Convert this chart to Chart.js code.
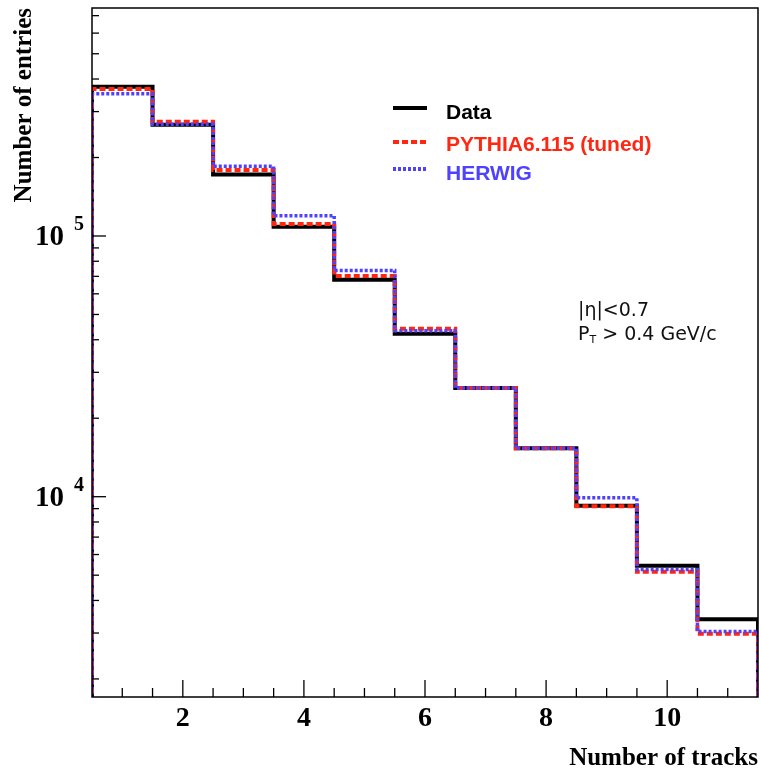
<!DOCTYPE html>
<html>
<head>
<meta charset="utf-8">
<script src="https://cdn.jsdelivr.net/npm/chart.js@4/dist/chart.umd.min.js"></script>
<style>
  html, body { margin: 0; padding: 0; background: #fff; }
  #wrap { width: 761px; height: 771px; }
</style>
</head>
<body>
<div id="wrap"><canvas id="c" width="761" height="771"></canvas></div>
<script>
// number of tracks (bin centres)
const tracks = [1, 2, 3, 4, 5, 6, 7, 8, 9, 10, 11];
// entries per bin
const dataValues   = [374000, 267000, 172000, 108600, 67900, 42200, 26100, 15350, 9230, 5430, 3390];
const pythiaValues = [366000, 274000, 179000, 111200, 70300, 44100, 26100, 15350, 9200, 5150, 2980];
const herwigValues = [351000, 268000, 185000, 119700, 73800, 43300, 26100, 15350, 9900, 5260, 3040];
const xTicks = [2, 4, 6, 8, 10];
const yDecades = [1e4, 1e5];

const Y_MIN = 1705, Y_MAX = 749000;
const FLOOR = 1; // below the axis, so the histogram edges drop out of view

const RED = 'rgb(255,38,18)';
const BLUE = 'rgb(78,66,255)';

// turn bin values into a step outline
function histPoints(values) {
  const pts = [{ x: tracks[0] - 0.5, y: FLOOR }];
  tracks.forEach((t, i) => pts.push({ x: t - 0.5, y: values[i] }));
  const last = tracks.length - 1;
  pts.push({ x: tracks[last] + 0.5, y: values[last] });
  pts.push({ x: tracks[last] + 0.5, y: FLOOR });
  return pts;
}

// inward ticks, frame, y labels, legend and cut text
const decorPlugin = {
  id: 'decor',
  afterDraw(chart) {
    const ctx = chart.ctx;
    const a = chart.chartArea;
    const xs = chart.scales.x, ys = chart.scales.y;
    ctx.save();
    ctx.strokeStyle = '#000';
    ctx.lineWidth = 1.5;
    ctx.setLineDash([]);
    ctx.strokeRect(a.left, a.top, a.right - a.left, a.bottom - a.top);

    ctx.lineWidth = 1.3;
    for (let v = 1; v <= 11; v += 0.5) {
      const px = xs.getPixelForValue(v);
      const len = (v % 2 === 0) ? 17 : 9;
      ctx.beginPath();
      ctx.moveTo(px, a.bottom);
      ctx.lineTo(px, a.bottom - len);
      ctx.stroke();
    }
    for (let d = 1e3; d <= 1e6; d *= 10) {
      for (let m = 1; m <= 9; m++) {
        const v = d * m;
        if (v < Y_MIN || v > Y_MAX) continue;
        const py = ys.getPixelForValue(v);
        const len = m === 1 ? 14 : 7;
        ctx.beginPath();
        ctx.moveTo(a.left, py);
        ctx.lineTo(a.left + len, py);
        ctx.stroke();
      }
    }

    // y labels as 10 with a raised exponent
    ctx.fillStyle = '#000';
    yDecades.forEach(v => {
      const py = ys.getPixelForValue(v);
      ctx.font = 'bold 29px "Liberation Serif"';
      ctx.textAlign = 'right';
      ctx.textBaseline = 'alphabetic';
      ctx.fillText('10', 64, py + 9);
      ctx.font = 'bold 20px "Liberation Serif"';
      ctx.textAlign = 'left';
      ctx.fillText(String(Math.round(Math.log10(v))), 74, py - 6);
    });

    // legend
    const rows = [
      { label: 'Data', color: '#000', dash: [], y: 108, ty: 113 },
      { label: 'PYTHIA6.115 (tuned)', color: RED, dash: [6, 3], y: 142, ty: 145 },
      { label: 'HERWIG', color: BLUE, dash: [3, 2], y: 169, ty: 174 }
    ];
    rows.forEach(r => {
      ctx.strokeStyle = r.color;
      ctx.lineWidth = 4;
      ctx.setLineDash(r.dash);
      ctx.beginPath();
      ctx.moveTo(393, r.y);
      ctx.lineTo(427, r.y);
      ctx.stroke();
      ctx.setLineDash([]);
      ctx.fillStyle = r.color;
      ctx.font = 'bold 21px "Liberation Sans"';
      ctx.textAlign = 'left';
      ctx.textBaseline = 'middle';
      ctx.fillText(r.label, 446, r.ty);
    });

    // selection cuts
    ctx.fillStyle = '#111';
    ctx.font = '19px "DejaVu Sans"';
    ctx.textBaseline = 'alphabetic';
    ctx.fillText('|\u03b7|<0.7', 578, 316);
    ctx.fillText('P', 578, 340);
    const pw = ctx.measureText('P').width;
    ctx.font = '11px "DejaVu Sans"';
    ctx.fillText('T', 578 + pw, 343);
    const tw = ctx.measureText('T').width;
    ctx.font = '19px "DejaVu Sans"';
    ctx.fillText(' > 0.4 GeV/c', 578 + pw + tw, 340);
    ctx.restore();
  }
};

new Chart(document.getElementById('c'), {
  type: 'line',
  data: {
    datasets: [
      { label: 'Data', data: histPoints(dataValues), borderColor: '#000', borderWidth: 4, stepped: 'before', pointRadius: 0, order: 2 },
      { label: 'PYTHIA6.115 (tuned)', data: histPoints(pythiaValues), borderColor: RED, borderWidth: 4, borderDash: [6, 3], stepped: 'before', pointRadius: 0, order: 1 },
      { label: 'HERWIG', data: histPoints(herwigValues), borderColor: BLUE, borderWidth: 3.5, borderDash: [3, 2], stepped: 'before', pointRadius: 0, order: 0 }
    ]
  },
  options: {
    responsive: false,
    animation: false,
    layout: { padding: { top: 8, right: 3, left: 0, bottom: 0 } },
    plugins: { legend: { display: false }, tooltip: { enabled: false } },
    scales: {
      x: {
        type: 'linear',
        min: 0.5,
        max: 11.5,
        afterBuildTicks: s => { s.ticks = xTicks.map(v => ({ value: v })); },
        afterFit: s => { s.height = 74; },
        grid: { display: false, drawTicks: false },
        border: { display: false },
        ticks: { color: '#000', padding: 5, font: { family: 'Liberation Serif', weight: 'bold', size: 28 } },
        title: { display: true, text: 'Number of tracks', align: 'end', color: '#000', padding: { top: 0, bottom: 0 },
                 font: { family: 'Liberation Serif', weight: 'bold', size: 25, lineHeight: 1.0 } }
      },
      y: {
        type: 'logarithmic',
        min: Y_MIN,
        max: Y_MAX,
        afterFit: s => { s.width = 92; },
        grid: { display: false, drawTicks: false },
        border: { display: false },
        ticks: { display: false },
        title: { display: true, text: 'Number of entries', align: 'end', color: '#000', padding: { top: 10, bottom: 0 },
                 font: { family: 'Liberation Serif', weight: 'bold', size: 25 } }
      }
    }
  },
  plugins: [decorPlugin]
});
</script>
</body>
</html>
